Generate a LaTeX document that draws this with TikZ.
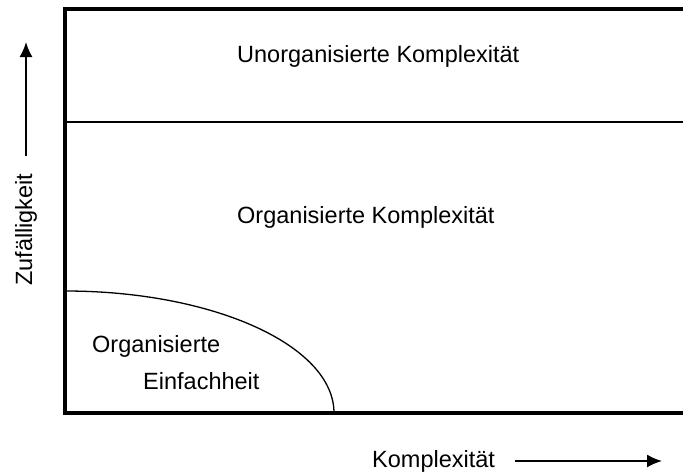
\documentclass[tikz,border=0pt]{standalone}
\usepackage{fontspec}
\setmainfont{Liberation Sans}
\usetikzlibrary{arrows.meta}
\begin{document}
\begin{tikzpicture}[x=1pt,y=-1pt,
  frame/.style={line width=4pt},
  divider/.style={line width=1.3pt},
  axis/.style={line width=1.8pt,-{Latex[length=15pt,width=13pt]}},
  lbl/.style={font=\fontsize{23.5}{28}\selectfont,inner sep=0pt}]
  \useasboundingbox (0,0) rectangle (683,474);
  % corner points of the frame
  \coordinate (tl) at (65,9);
  \coordinate (tr) at (683,9);
  \coordinate (bl) at (65,413);
  \coordinate (br) at (683,413);
  \coordinate (ml) at (65,122);
  \coordinate (mr) at (683,122);
  \coordinate (cs) at (65,291);
  % region boundaries
  \draw[divider] (ml) -- (mr);
  \draw[divider] (cs) arc[start angle=90,end angle=0,x radius=269,y radius=-122];
  \draw[frame] (tr) -- (tl) -- (bl) -- (br);
  % region labels
  \node[lbl,anchor=base west] (uk) at (237,62) {Unorganisierte Komplexität};
  \node[lbl,anchor=base west] (ok) at (237,223) {Organisierte Komplexität};
  \node[lbl,anchor=base west] (oe1) at (92,352) {Organisierte};
  \node[lbl,anchor=base west] (oe2) at (143,389) {Einfachheit};
  % axes
  \node[lbl,rotate=90,anchor=base west] (ya) at (32,286) {Zufälligkeit};
  \coordinate (y0) at (26,156);
  \coordinate (y1) at (26,42);
  \draw[axis] (y0) -- (y1);
  \node[lbl,anchor=base west] (xa) at (372,467) {Komplexität};
  \coordinate (x0) at (515,461);
  \coordinate (x1) at (662,461);
  \draw[axis] (x0) -- (x1);
\end{tikzpicture}
\end{document}
